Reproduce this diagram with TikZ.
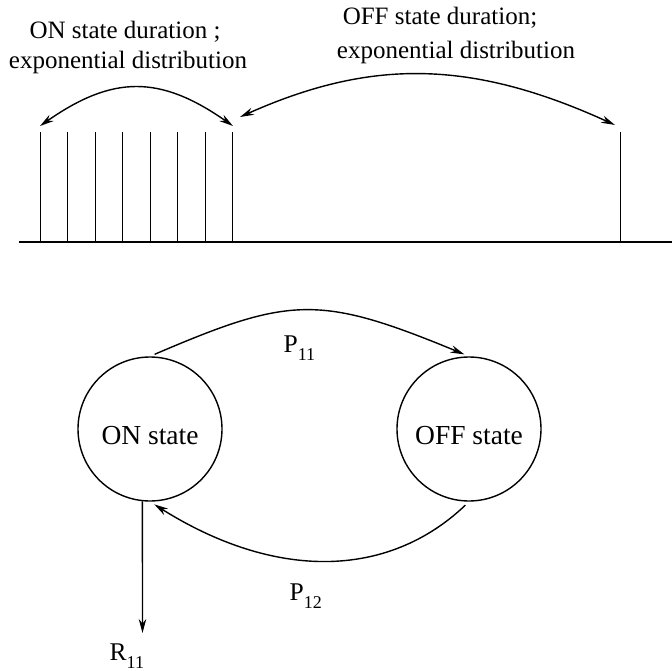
\documentclass[tikz,border=0pt]{standalone}
\usepackage{fontspec}
\setmainfont{Liberation Serif}
\newfontfamily\tnr{Liberation Serif}
\usetikzlibrary{arrows.meta,calc}
\newcommand\mysub[1]{\raisebox{-0.32em}{\fontsize{18}{18}\selectfont #1}}
\begin{document}
\begin{tikzpicture}[x=1pt,y=-1pt, line width=1.4pt,
  toplbl/.style={font=\tnr\fontsize{25}{25}\selectfont, inner sep=0pt, anchor=base},
  lbl/.style={font=\tnr\fontsize{25.5}{25.5}\selectfont, inner sep=0pt, anchor=base west},
  state/.style={circle, draw, minimum size=144pt, inner sep=0pt,
    text height=30pt, text depth=0pt, font=\tnr\fontsize{27.5}{27.5}\selectfont},
  arr/.style={-{Stealth[length=14pt,width=7.5pt]}},
  darr/.style={{Stealth[length=14pt,width=7.5pt]}-{Stealth[length=14pt,width=7.5pt]}}]
\useasboundingbox (0,0) rectangle (672,671);

% top labels
\node[toplbl] (onl1) at (125,39) {ON state duration ;};
\node[toplbl] (onl2) at (128,69) {exponential distribution};
\node[toplbl] (offl1) at (440,25) {OFF state duration;};
\node[toplbl] (offl2) at (456,59) {exponential distribution};

% pulse train
\draw (19,242) -- (672,242);
\foreach \x in {40.5,67.5,95.5,122.5,150.5,177.5,205.5,232.5}
  \draw (\x,132) -- (\x,242);
\draw (620.5,132) -- (620.5,242);

% duration arcs
\coordinate (a1) at (40,126);
\coordinate (a8) at (233,126);
\coordinate (b1) at (240,117);
\coordinate (b2) at (615,125);
\draw[darr] (a1) .. controls +(73,-51) and +(-73,-51) .. (a8);
\draw[darr] (b1) .. controls +(130,-58) and +(-145,-66) .. (b2);

% state machine
\node[state] (on) at (150,429) {ON state};
\node[state] (off) at (469,429) {OFF state};

\draw[arr, shorten <=5pt, shorten >=5pt] (on.north) .. controls +(140,-60) and +(-150,-62) .. (off.north);
\draw[arr, shorten <=5pt, shorten >=5pt] (off.south) .. controls +(-82,78) and +(124,78) .. (on.south);

\node[lbl] (p11) at (283,352) {P\mysub{11}};
\node[lbl] (p12) at (289,600) {P\mysub{12}};

\coordinate (rt) at (142.5,633);
\draw[arr] (on.264) -- (rt);
\node[lbl] (r11) at (109,660) {R\mysub{11}};
\end{tikzpicture}
\end{document}
